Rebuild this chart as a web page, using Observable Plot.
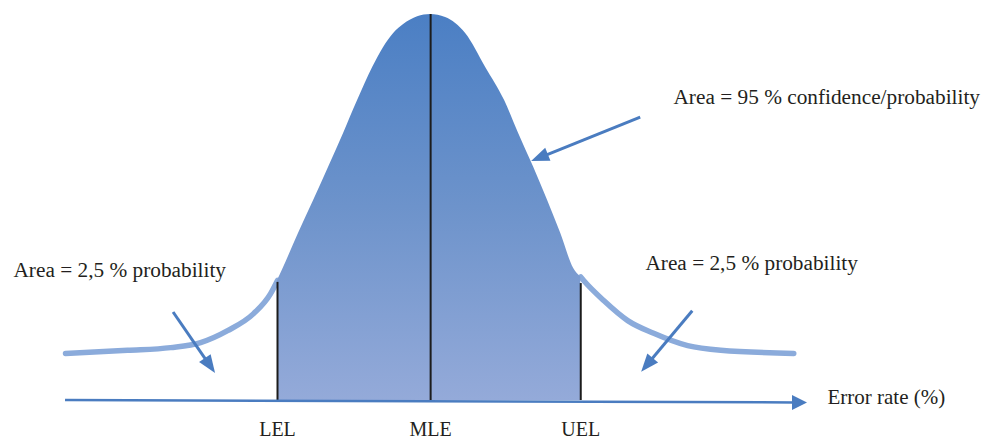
<!DOCTYPE html>
<html><head><meta charset="utf-8">
<script src="https://cdn.jsdelivr.net/npm/d3@7"></script>
<script src="https://cdn.jsdelivr.net/npm/@observablehq/plot@0.6"></script>
<style>body{margin:0;background:#fff} #chart svg{display:block}</style>
</head><body><div id="chart"></div>
<script>
// Bell curve outline: x in SD units from the MLE, y = relative height
const curveX = [-4.244,-3.523,-3.023,-2.674,-2.360,-2.058,-1.860,-1.721,-1.535,-1.360,-1.186,-1.012,-0.849,-0.674,-0.430,-0.314,-0.151,0,0.174,0.291,0.407,0.640,0.860,1.023,1.198,1.360,1.512,1.663,1.779,2.012,2.291,2.593,2.988,3.372,4.221];
const curveY = [0.122,0.130,0.137,0.150,0.181,0.225,0.277,0.339,0.433,0.518,0.604,0.692,0.777,0.863,0.951,0.974,0.994,1.0,0.992,0.977,0.951,0.863,0.777,0.692,0.604,0.518,0.433,0.342,0.311,0.259,0.207,0.174,0.142,0.130,0.122];

// Limits: position, top of the vertical rule, height of the curve at the limit
const limitNames = ["LEL", "MLE", "UEL"];
const limitX = [-1.78, 0, 1.745];
const limitTop = [0.306, 1.0, 0.303];
const limitCurveY = [0.311, 1.0, 0.320];

// Horizontal axis arrow
const axisX = [-4.244, 4.381];
const axisY = [0, -0.0065];
const axisLabel = "Error rate (%)";
const axisLabelX = 4.613;
const axisLabelY = -0.010;
const limitLabelY = -0.0907;

// Annotations
const noteTexts = ["Area = 95 % confidence/probability", "Area = 2,5 % probability", "Area = 2,5 % probability"];
const noteX = [2.823, -4.849, 2.497];
const noteY = [0.767, 0.319, 0.339];
const pointerFromX = [2.442, -2.988, 3.047];
const pointerFromY = [0.733, 0.228, 0.231];
const pointerToX = [1.174, -2.500, 2.453];
const pointerToY = [0.619, 0.070, 0.073];

const W = 985, H = 441;
const FONT = "'Liberation Serif', 'DejaVu Serif', serif";
const BLUE = "#4a7cc0";

const curve = curveX.map((x, i) => ({x, y: curveY[i]}));
const limits = limitNames.map((name, i) => ({name, x: limitX[i], top: limitTop[i]}));
const lel = limitX[0], uel = limitX[2];
const lelPt = {x: lel, y: limitCurveY[0]}, uelPt = {x: uel, y: limitCurveY[2]};
const inner = [lelPt, ...curve.filter(d => d.x > lel && d.x < uel), uelPt];
const leftTail = [...curve.filter(d => d.x < lel), lelPt];
const rightTail = [uelPt, ...curve.filter(d => d.x > uel)];
const notes = noteTexts.map((text, i) => ({text, x: noteX[i], y: noteY[i]}));

const arrows = [
  {x1: axisX[0], y1: axisY[0], x2: axisX[1], y2: axisY[1], w: 2.5, L: 15, hw: 7.5},
  ...pointerFromX.map((x, i) => ({x1: x, y1: pointerFromY[i], x2: pointerToX[i], y2: pointerToY[i], w: 3, L: 18, hw: 7}))
];

function gradientDefs(index, scales) {
  const defs = d3.create("svg:defs");
  const lg = defs.append("linearGradient").attr("id", "bellGrad")
    .attr("gradientUnits", "userSpaceOnUse")
    .attr("x1", 0).attr("x2", 0)
    .attr("y1", scales.y(1)).attr("y2", scales.y(0));
  [[0, "#4b7fc4"], [0.5, "#6d93cb"], [1, "#94aad9"]].forEach(([o, c]) =>
    lg.append("stop").attr("offset", o).attr("stop-color", c));
  return defs.node();
}

function arrowMark(index, scales) {
  const g = d3.create("svg:g");
  for (const a of arrows) {
    const x1 = scales.x(a.x1), y1 = scales.y(a.y1), x2 = scales.x(a.x2), y2 = scales.y(a.y2);
    const dx = x2 - x1, dy = y2 - y1, len = Math.hypot(dx, dy), ux = dx / len, uy = dy / len;
    const bx = x2 - ux * a.L, by = y2 - uy * a.L;
    g.append("line")
      .attr("x1", x1).attr("y1", y1).attr("x2", bx + ux * 2).attr("y2", by + uy * 2)
      .attr("stroke", BLUE).attr("stroke-width", a.w);
    g.append("path")
      .attr("d", `M${x2},${y2}L${bx - uy * a.hw},${by + ux * a.hw}L${bx + uy * a.hw},${by - ux * a.hw}Z`)
      .attr("fill", BLUE);
  }
  return g.node();
}

const plot = Plot.plot({
  width: W,
  height: H,
  marginTop: 14,
  marginBottom: 41,
  marginLeft: 0,
  marginRight: 0,
  x: {domain: [-5, 6.45], axis: null},
  y: {domain: [0, 1], axis: null},
  style: {fontFamily: FONT, background: "#fff"},
  marks: [
    gradientDefs,
    Plot.line(leftTail, {x: "x", y: "y", stroke: "#8babdb", strokeWidth: 5.5, curve: "monotone-x"}),
    Plot.line(rightTail, {x: "x", y: "y", stroke: "#8babdb", strokeWidth: 5.5, curve: "monotone-x"}),
    Plot.areaY(inner, {x: "x", y: "y", fill: "url(#bellGrad)", curve: "monotone-x"}),
    Plot.ruleX(limits, {x: "x", y1: 0, y2: "top", stroke: "#1c1c1c", strokeWidth: 2}),
    arrowMark,
    Plot.text(limits, {x: "x", y: limitLabelY, text: "name", textAnchor: "middle", lineAnchor: "bottom", fontSize: 20, fontFamily: FONT, fill: "#231f20"}),
    Plot.text([axisLabel], {x: axisLabelX, y: axisLabelY, text: d => d, textAnchor: "start", lineAnchor: "bottom", fontSize: 21, fontFamily: FONT, fill: "#231f20"}),
    Plot.text(notes, {x: "x", y: "y", text: "text", textAnchor: "start", lineAnchor: "bottom", fontSize: 21.3, fontFamily: FONT, fill: "#231f20"})
  ]
});
document.getElementById("chart").appendChild(plot);
</script>
</body></html>
